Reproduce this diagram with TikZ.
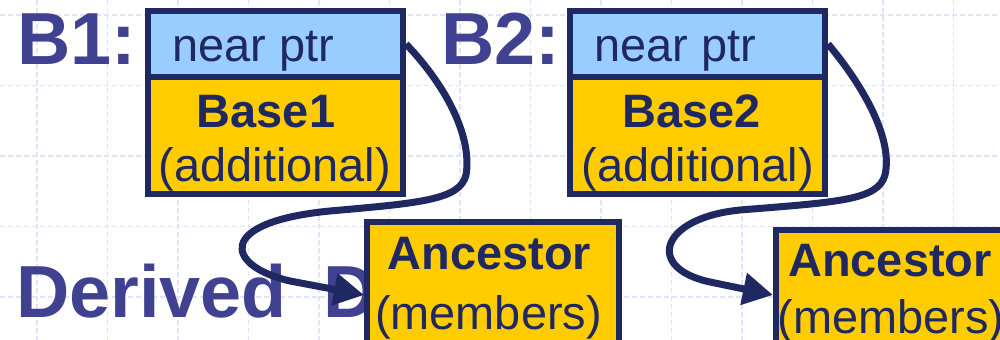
\documentclass[tikz,border=0pt]{standalone}
\usepackage{fontspec}
\setmainfont{Liberation Sans}
\usetikzlibrary{arrows.meta}

\definecolor{boxnavy}{RGB}{31,40,96}
\definecolor{lblblue}{RGB}{65,65,146}
\definecolor{ptrfill}{RGB}{153,204,255}
\definecolor{basefill}{RGB}{255,204,0}
\definecolor{gridcol}{RGB}{224,228,250}

\newcommand{\celltxt}{\fontsize{26.7}{31}\selectfont}
\newcommand{\bigtxt}{\fontsize{42}{48}\selectfont\bfseries}

\tikzset{
  memcell/.style={draw=boxnavy, line width=1.2mm, minimum width=51mm, inner sep=0pt},
  ptrcell/.style={memcell, fill=ptrfill, minimum height=13.2mm},
  basecell/.style={memcell, fill=basefill, minimum height=23.4mm},
  anccell/.style={memcell, fill=basefill, minimum width=50.4mm, minimum height=29.2mm},
  celltext/.style={text=boxnavy, font=\celltxt, inner sep=0pt},
  objlabel/.style={text=lblblue, font=\bigtxt, inner sep=0pt, anchor=base west},
  ptrarrow/.style={draw=boxnavy, line width=1.4mm, -{Triangle[length=6mm,width=6.2mm]}}
}

\begin{document}
\begin{tikzpicture}[x=0.2mm, y=-0.2mm]
    \useasboundingbox (0,0) rectangle (1000,340);
    \clip (0,0) rectangle (1000,340);

    % Hintergrundraster
    \foreach \gx in {0,...,13}
        \draw[gridcol, line width=0.3mm, dash pattern=on 1mm off 0.6mm] (37+70.5*\gx,0) -- (37+70.5*\gx,340);
    \foreach \gy in {0,...,4}
        \draw[gridcol, line width=0.3mm, dash pattern=on 1mm off 0.6mm] (0,15+70.5*\gy) -- (1000,15+70.5*\gy);

    % Objektnamen
    \node[objlabel] (lblb1) at (17,65) {B1:};
    \node[objlabel] (lblb2) at (441,65) {B2:};
    \node[objlabel] (lbld) at (16,318) {Derived\hspace{.5em}D};

    % Objekt B1
    \node[basecell] (b1base) at (275.5,135.5) {};
    \node[ptrcell] (b1ptr) at (275.5,44) {};
    \node[celltext, anchor=base west] (b1ptrtxt) at (172,62) {near ptr};
    \node[celltext, anchor=base] (b1name) at (266,128) {\bfseries Base1};
    \node[celltext, anchor=base] (b1add) at (275,182) {(additional)};

    % Objekt B2
    \node[basecell] (b2base) at (697.5,135.5) {};
    \node[ptrcell] (b2ptr) at (697.5,44) {};
    \node[celltext, anchor=base west] (b2ptrtxt) at (594,62) {near ptr};
    \node[celltext, anchor=base] (b2name) at (691.5,128) {\bfseries Base2};
    \node[celltext, anchor=base] (b2add) at (698,182) {(additional)};

    % gemeinsame Vorfahren
    \node[anccell] (anc1) at (493,295) {};
    \node[celltext, anchor=base] (anc1name) at (489.5,270) {\bfseries Ancestor};
    \node[celltext, anchor=base] (anc1mem) at (488.5,330) {(members)};

    \node[anccell] (anc2) at (902,303) {};
    \node[celltext, anchor=base] (anc2name) at (890,277) {\bfseries Ancestor};
    \node[celltext, anchor=base] (anc2mem) at (891,334) {(members)};

    % Zeiger
    \draw[ptrarrow] (b1ptr.east) .. controls (450,90) and (472,140) .. (466,175)
        .. controls (460,200) and (420,203) .. (330,211)
        .. controls (215,222) and (225,266) .. (290,281) -- (anc1.west);
    \draw[ptrarrow] (b2ptr.east) .. controls (865,88) and (893,140) .. (885,175)
        .. controls (878,200) and (840,202) .. (740,210)
        .. controls (660,218) and (645,268) .. (710,282) -- ([yshift=1.6mm]anc2.west);
\end{tikzpicture}
\end{document}
